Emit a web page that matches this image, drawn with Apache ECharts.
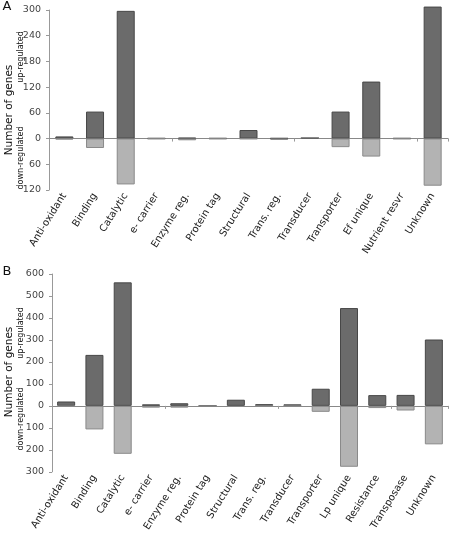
<!DOCTYPE html>
<html><head><meta charset="utf-8">
<script src="https://cdn.jsdelivr.net/npm/echarts@6/dist/echarts.min.js"></script>
<style>html,body{margin:0;padding:0;background:#fff}#c{width:462px;height:534px}</style>
</head><body><div id="c"></div>
<script>
const catsA = ['Anti-oxidant','Binding','Catalytic','e- carrier','Enzyme reg.','Protein tag','Structural','Trans. reg.','Transducer','Transporter','Ef unique','Nutrient resvr','Unknown'];
const upA   = [5, 63, 298, 1, 2, 1, 20, 1, 2, 63, 133, 1, 308];
const downA = [2, 22, 107, 1, 4, 1, 1, 3, 0, 20, 42, 1, 110];
const ticksA = {min: -120, max: 300, interval: 60};

const catsB = ['Anti-oxidant','Binding','Catalytic','e- carrier','Enzyme reg.','Protein tag','Structural','Trans. reg.','Transducer','Transporter','Lp unique','Resistance','Transposase','Unknown'];
const upB   = [20, 232, 562, 7, 12, 2, 28, 8, 7, 78, 445, 49, 50, 302];
const downB = [3, 107, 218, 8, 8, 1, 5, 2, 2, 27, 277, 10, 21, 175];
const ticksB = {min: -300, max: 600, interval: 100};

const FONT = 'DejaVu Sans';
const chart = echarts.init(document.getElementById('c'));

function xAxes(cats, gi) {
  return [
    {type:'category', gridIndex:gi, data:cats, axisLine:{onZero:true, lineStyle:{color:'#888'}},
     axisTick:{show:true, length:3, lineStyle:{color:'#999'}}, axisLabel:{show:false}},
    {type:'category', gridIndex:gi, data:cats, position:'bottom', axisLine:{show:false, onZero:false},
     axisTick:{show:false}, axisLabel:{rotate:58, fontFamily:FONT, fontSize:10, color:'#222', margin:4, interval:0}}
  ];
}
function yAxis(t, gi) {
  return {type:'value', gridIndex:gi, min:t.min, max:t.max, interval:t.interval,
    axisLine:{show:true, lineStyle:{color:'#999'}}, axisTick:{show:true, length:3, lineStyle:{color:'#999'}},
    splitLine:{show:false},
    axisLabel:{fontFamily:FONT, fontSize:9.5, color:'#444', margin:8, formatter:v=>Math.abs(v)}};
}
function series(up, down, gi) {
  return [
    {type:'bar', xAxisIndex:gi*2, yAxisIndex:gi, stack:'s'+gi, barWidth:18, data:up, clip:false,
     itemStyle:{color:'#6b6b6b', borderColor:'#474747', borderWidth:1}},
    {type:'bar', xAxisIndex:gi*2, yAxisIndex:gi, stack:'s'+gi, barWidth:18, data:down.map(v=>-v), clip:false,
     itemStyle:{color:'#b3b3b3', borderColor:'#8a8a8a', borderWidth:1}}
  ];
}
function txt(x, y, s, size, rot) {
  return {type:'text', x:x, y:y, rotation: rot ? Math.PI/2 : 0,
    style:{text:s, fontFamily:FONT, fontSize:size, fill:'#111', align:'center', verticalAlign:'middle'}};
}

chart.setOption({
  animation:false,
  grid:[
    {left:49, top:10, width:399, height:180},
    {left:52, top:274, width:396, height:201}
  ],
  xAxis:[...xAxes(catsA,0), ...xAxes(catsB,1)],
  yAxis:[yAxis(ticksA,0), yAxis(ticksB,1)],
  series:[...series(upA,downA,0), ...series(upB,downB,1)],
  graphic:[
    txt(7, 7, 'A', 13, false),
    txt(9, 110, 'Number of genes', 10.5, true),
    txt(21, 57, 'up-regulated', 8, true),
    txt(21, 158, 'down-regulated', 8, true),
    txt(7, 272, 'B', 13, false),
    txt(9, 372, 'Number of genes', 10.5, true),
    txt(21, 333, 'up-regulated', 8, true),
    txt(21, 419, 'down-regulated', 8, true)
  ]
});
</script></body></html>
